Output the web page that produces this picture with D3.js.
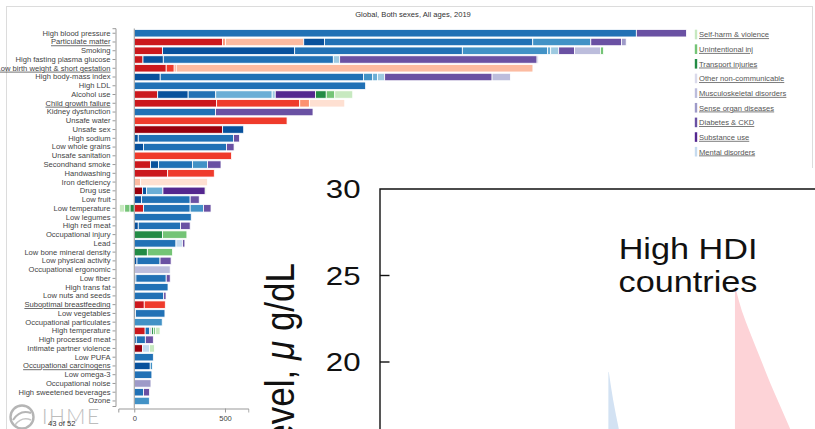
<!DOCTYPE html>
<html><head><meta charset="utf-8">
<script src="https://cdn.jsdelivr.net/npm/d3@7"></script>
<style>
body{margin:0;background:#fff;}
svg{display:block;font-family:"Liberation Sans",Arial,sans-serif;}
</style></head>
<body><svg id="c" width="815" height="429"></svg>
<script>
const title = "Global, Both sexes, All ages, 2019";
const categories = ["High blood pressure","Particulate matter","Smoking","High fasting plasma glucose","Low birth weight & short gestation","High body-mass index","High LDL","Alcohol use","Child growth failure","Kidney dysfunction","Unsafe water","Unsafe sex","High sodium","Low whole grains","Unsafe sanitation","Secondhand smoke","Handwashing","Iron deficiency","Drug use","Low fruit","Low temperature","Low legumes","High red meat","Occupational injury","Lead","Low bone mineral density","Low physical activity","Occupational ergonomic","Low fiber","High trans fat","Low nuts and seeds","Suboptimal breastfeeding","Low vegetables","Occupational particulates","High temperature","High processed meat","Intimate partner violence","Low PUFA","Occupational carcinogens","Low omega-3","Occupational noise","High sweetened beverages","Ozone"];
const underlined = ["Particulate matter","Low birth weight & short gestation","Child growth failure","Suboptimal breastfeeding","Occupational carcinogens"];

// DALYs per 100,000 by cause group, aligned with categories
const hiv      = [0,0,0,0,0,0,0,0,0,0, 0,487,0,0,0,0,0,0,46,0, 0,0,0,0,0,0,0,0,0,0, 0,0,0,0,0,0,46,0,0,0, 0,0,0];
const respInf  = [0,487,156,48,176,0,0,129,454,0, 0,0,0,0,0,90,184,0,0,0, 51,0,0,0,0,0,0,0,0,0, 0,55,0,0,60,0,0,0,0,0, 0,0,0];
const enteric  = [0,0,0,0,44,0,0,0,458,0, 842,0,0,0,536,0,257,0,0,0, 0,0,0,0,0,0,0,0,0,0, 0,116,0,0,0,0,0,0,0,0, 0,0,0];
const otherInf = [0,15,0,0,11,0,0,0,53,0, 0,0,0,0,0,0,0,0,0,0, 0,0,0,0,0,0,0,0,0,0, 0,0,0,0,0,0,0,0,0,0, 0,0,0];
const mnd      = [0,432,0,0,1966,0,0,0,0,0, 0,0,0,0,0,0,0,35,0,0, 0,0,0,0,0,0,0,0,0,0, 0,0,0,0,0,0,0,0,0,0, 0,0,0];
const nutr     = [0,0,0,0,0,0,0,0,195,0, 0,0,0,0,0,0,0,369,0,0, 0,0,0,0,0,0,0,0,0,0, 0,0,0,0,0,0,0,0,0,0, 0,0,0];
const neo      = [0,114,728,112,0,143,0,168,0,0, 0,116,22,51,0,44,0,0,22,40, 0,0,22,0,0,0,15,0,9,0, 0,0,7,0,0,11,0,0,88,0, 0,0,0];
const cvd      = [2767,1148,924,937,0,1121,1275,152,0,448, 0,0,525,457,0,187,0,0,0,268, 257,314,233,0,230,0,127,0,167,186, 162,0,162,0,25,50,0,105,0,97, 0,51,0];
const chrResp  = [0,320,469,0,0,50,0,0,0,0, 0,0,0,0,0,83,0,0,0,0, 73,0,0,0,0,0,0,0,0,0, 0,0,0,154,0,0,0,0,12,0, 0,0,83];
const digest   = [0,0,18,0,0,26,0,311,0,0, 0,0,0,0,0,0,0,0,90,0, 0,0,0,0,0,0,0,0,0,0, 0,0,0,0,0,0,0,0,0,0, 0,0,0];
const neuro    = [0,0,44,35,0,40,0,17,0,0, 0,0,0,0,0,0,0,0,0,0, 0,0,0,0,0,0,0,0,0,0, 0,0,0,0,0,0,0,0,0,0, 0,0,0];
const mental   = [0,0,0,0,0,0,0,0,0,0, 0,0,0,0,0,0,0,0,0,0, 0,0,0,0,36,0,0,0,0,0, 0,0,0,0,0,0,38,0,0,0, 0,0,0];
const subst    = [0,0,0,0,0,0,0,222,0,0, 0,0,0,0,0,0,0,0,233,0, 0,0,0,0,0,0,0,0,0,0, 0,0,0,0,0,0,0,0,0,0, 0,0,0];
const diab     = [276,169,87,1088,0,592,0,0,0,537, 0,0,33,42,0,74,0,0,0,50, 42,0,53,0,13,0,61,0,22,0, 13,0,0,0,7,44,0,0,0,0, 0,33,0];
const sense    = [0,26,0,0,0,0,0,0,0,0, 0,0,0,0,0,0,0,0,0,0, 0,0,0,0,0,0,0,0,0,0, 0,0,0,0,4,0,0,0,0,0, 92,0,0];
const musc     = [0,0,143,7,0,101,0,0,0,0, 0,0,0,0,0,0,0,0,0,0, 0,0,0,0,0,0,0,198,0,0, 0,0,0,0,0,0,0,0,0,0, 0,0,0];
const transport= [0,0,0,0,0,0,0,59,0,0, 0,0,0,0,0,0,0,0,0,0, -24,0,0,156,0,72,0,0,0,0, 0,0,0,0,11,0,0,0,0,0, 0,0,0];
const unint    = [0,0,17,0,0,0,0,47,0,0, 0,0,0,0,0,0,0,0,0,0, -29,0,0,134,0,139,0,0,0,0, 0,0,0,0,11,0,0,0,0,0, 0,0,0];
const selfHarm = [0,0,0,0,0,0,0,99,0,0, 0,0,0,0,0,0,0,0,6,0, -29,0,0,0,0,0,0,0,0,0, 0,0,0,0,24,0,27,0,0,0, 0,0,0];

const seriesKeys = ["hiv","respInf","enteric","otherInf","mnd","nutr","neo","cvd","chrResp","digest","neuro","mental","subst","diab","sense","musc","transport","unint","selfHarm"];
const seriesValues = [hiv,respInf,enteric,otherInf,mnd,nutr,neo,cvd,chrResp,digest,neuro,mental,subst,diab,sense,musc,transport,unint,selfHarm];
const seriesColors = ["#99000d","#cb181d","#ef3b2c","#fc9272","#fcbba1","#fee0d2","#08519c","#2171b5","#4292c6","#6baed6","#9ecae1","#c6dbef","#54278f","#6a51a3","#9e9ac8","#bcbddc","#238b45","#74c476","#c7e9c0"];

const legendNames = ["Self-harm & violence","Unintentional inj","Transport injuries","Other non-communicable","Musculoskeletal disorders","Sense organ diseases","Diabetes & CKD","Substance use","Mental disorders"];
const legendColors = ["#c7e9c0","#74c476","#238b45","#dadaeb","#bcbddc","#9e9ac8","#6a51a3","#54278f","#c6dbef"];
const xTicks = [0, 500];
const pageLabel = "43 of 52";

// overlay picture (blood lead)
const ovTicks = [20, 25, 30];
const ovLabel = "High HDI countries";
const pinkLevel = [24.22, 22.95, 21.68, 20.23, 18.79, 17.46, 16.13];
const pinkPos   = [81.8, 83.2, 85.1, 87.4, 89.7, 92.0, 94.3];
const blueLevel = [19.42, 17.8, 16.13];
const bluePos   = [52.6, 53.6, 54.9];

const svg = d3.select("#c");
const FS = 7.6;

// frame
svg.append("rect").attr("x",6.5).attr("y",6.5).attr("width",806).attr("height",440)
  .attr("fill","none").attr("stroke","#dcdcdc");

svg.append("text").attr("x",413).attr("y",17).attr("text-anchor","middle")
  .attr("font-size",FS).attr("fill","#333").text(title);

const x = d3.scaleLinear().domain([-88, 629]).range([118.3, 248.4]);
const y = d3.scaleBand().domain(categories).range([28.2, 406]).padding(0.15);

const rows = categories.map((c,i)=>{
  const o = {cat:c};
  seriesKeys.forEach((k,j)=>o[k]=seriesValues[j][i]);
  return o;
});
const stacked = d3.stack().keys(seriesKeys).offset(d3.stackOffsetDiverging)(rows);

const gBars = svg.append("g");
stacked.forEach((s,j)=>{
  gBars.selectAll(null).data(s.filter(d=>d[1]-d[0]!==0)).join("rect")
    .attr("x",d=>x(Math.min(d[0],d[1])))
    .attr("width",d=>Math.abs(x(d[1])-x(d[0])))
    .attr("y",d=>y(d.data.cat))
    .attr("height",y.bandwidth())
    .attr("fill",seriesColors[j])
    .attr("stroke","#fff").attr("stroke-width",0.8);
});

// zero line
svg.append("line").attr("x1",x(0)).attr("x2",x(0)).attr("y1",28.5).attr("y2",408)
  .attr("stroke","#999").attr("stroke-width",1);

// y axis
const yAx = svg.append("g").attr("transform","translate(115.5,0)")
  .call(d3.axisLeft(y).tickSize(3).tickSizeOuter(3).tickPadding(2));
yAx.select(".domain").attr("stroke","#999");
yAx.selectAll(".tick line").attr("stroke","#999");
yAx.selectAll(".tick text").attr("font-size",FS).attr("font-family","Liberation Sans, Arial")
  .attr("fill","#444")
  .style("text-decoration",d=>underlined.includes(d)?"underline":"none");

// x axis
const xAx = svg.append("g").attr("transform","translate(0,408.5)")
  .call(d3.axisBottom(x).tickValues(xTicks).tickSize(4).tickSizeOuter(4).tickPadding(3));
xAx.select(".domain").attr("stroke","#999");
xAx.selectAll(".tick line").attr("stroke","#999");
xAx.selectAll(".tick text").attr("font-size",FS).attr("font-family","Liberation Sans, Arial").attr("fill","#444");

// legend
const lg = svg.append("g");
legendNames.forEach((n,i)=>{
  const cy = 34.5 + i*14.65;
  lg.append("rect").attr("x",694.8).attr("y",cy-4.8).attr("width",2.4).attr("height",9.6).attr("fill",legendColors[i]);
  lg.append("text").attr("x",699).attr("y",cy+2.8).attr("font-size",FS).attr("fill","#555")
    .style("text-decoration","underline").text(n);
});

// IHME logo
const logo = svg.append("g");
logo.append("circle").attr("cx",22).attr("cy",417).attr("r",11.5).attr("fill","none")
  .attr("stroke","#b5b5b5").attr("stroke-width",2.4);
logo.append("path").attr("d","M13,420 Q20,409 31,413").attr("fill","none").attr("stroke","#b5b5b5").attr("stroke-width",2);
logo.append("path").attr("d","M15,425 Q22,416 31,420").attr("fill","none").attr("stroke","#c5c5c5").attr("stroke-width",1.6);
logo.append("text").attr("x",42).attr("y",424).attr("font-size",21).attr("letter-spacing",1.5)
  .attr("font-family","Lato, Liberation Sans").attr("font-weight",300).attr("fill","#bdbdbd").text("IHME");
svg.append("text").attr("x",48).attr("y",425.5).attr("font-size",FS).attr("fill","#333").text(pageLabel);

// overlay picture
const ov = svg.append("g");
ov.append("rect").attr("x",249.5).attr("y",168).attr("width",566).attr("height",262).attr("fill","#fff");
const yO = d3.scaleLinear().domain([20,30]).range([362,189]);
const xO = d3.scaleLinear().domain([0,100]).range([380,815]);
const SX = 1.18;

const pinkData = pinkLevel.map((l,i)=>({l, p:pinkPos[i]}));
const blueData = blueLevel.map((l,i)=>({l, p:bluePos[i]}));
const areaPink = d3.area().curve(d3.curveMonotoneY).y(d=>yO(d.l)).x0(xO(81.6)).x1(d=>xO(d.p));
const areaBlue = d3.area().curve(d3.curveMonotoneY).y(d=>yO(d.l)).x0(xO(52.5)).x1(d=>xO(d.p));
ov.append("path").attr("d",areaPink(pinkData)).attr("fill","#fdd3d7");
ov.append("path").attr("d",areaBlue(blueData)).attr("fill","#d3e2f3");

// frame lines
ov.append("path").attr("d",`M815,${yO(30)} H${xO(0)} V430`).attr("fill","none").attr("stroke","#111").attr("stroke-width",1.4);
ovTicks.forEach(t=>{
  if (t!==30) ov.append("line").attr("x1",xO(0)).attr("x2",xO(0)+9.5).attr("y1",yO(t)).attr("y2",yO(t))
    .attr("stroke","#111").attr("stroke-width",1.4);
  ov.append("text").attr("transform",`translate(360.5,${yO(t)}) scale(1.2,1)`)
    .attr("text-anchor","end").attr("dy","0.36em").attr("font-size",26)
    .attr("font-family","Liberation Sans, Arial").attr("fill","#111").text(String(t));
});
const words = ovLabel.split(" ");
ov.append("text").attr("transform",`translate(688,259) scale(${SX},1)`).attr("text-anchor","middle")
  .attr("font-size",29).attr("fill","#111").text(words.slice(0,2).join(" "));
ov.append("text").attr("transform",`translate(688,292) scale(${SX},1)`).attr("text-anchor","middle")
  .attr("font-size",29).attr("fill","#111").text(words[2]);
const yl = ov.append("text").attr("transform",`translate(294,263) scale(${SX},1) rotate(-90)`)
  .attr("text-anchor","end").attr("font-size",35).attr("fill","#111");
yl.append("tspan").text("Blood lead level, ");
yl.append("tspan").attr("font-style","italic").text("\u03bc");
yl.append("tspan").text(" g/dL");
</script>
</body></html>
